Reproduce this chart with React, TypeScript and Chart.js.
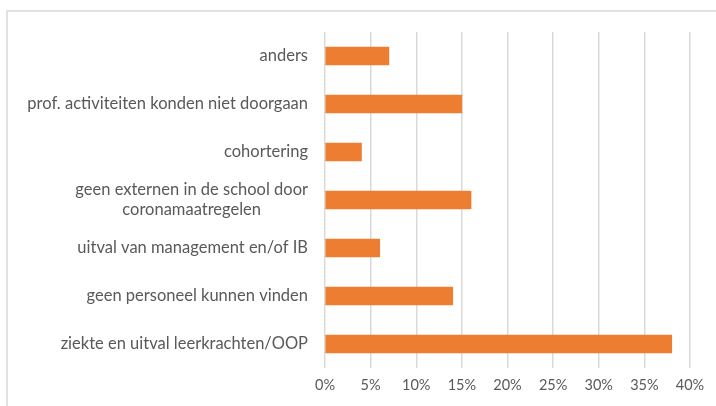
import React, { useEffect, useRef } from "react";
import { Chart, registerables } from "chart.js";

Chart.register(...registerables);

const categories: (string | string[])[] = [
  "anders",
  "prof. activiteiten konden niet doorgaan",
  "cohortering",
  ["geen externen in de school door", "coronamaatregelen"],
  "uitval van management en/of IB",
  "geen personeel kunnen vinden",
  "ziekte en uitval leerkrachten/OOP",
];
const values = [7, 15, 4, 16, 6, 14, 38];
const xMin = 0;
const xMax = 40;
const xStep = 5;

const FONT = "Lato";
const TEXT = "#595959";

const decorPlugin = {
  id: "decor",
  afterDraw(chart: any) {
    const ctx = chart.ctx as CanvasRenderingContext2D;
    const y = chart.scales.y;
    ctx.save();
    ctx.font = `16.5px ${FONT}`;
    ctx.fillStyle = TEXT;
    ctx.textAlign = "center";
    ctx.textBaseline = "middle";
    (chart.data.labels as (string | string[])[]).forEach((lab, i) => {
      const lines = Array.isArray(lab) ? lab : [lab];
      const w = Math.max(...lines.map((l) => ctx.measureText(l).width));
      const cx = chart.chartArea.left - 17 - w / 2;
      const cy = y.getPixelForValue(i);
      const lh = 20;
      lines.forEach((l, j) => {
        ctx.fillText(l, cx, cy + (j - (lines.length - 1) / 2) * lh);
      });
    });
    ctx.strokeStyle = "#d9d9d9";
    ctx.lineWidth = 1.5;
    ctx.strokeRect(7, 11, 1000, 1000);
    ctx.restore();
  },
};

export default function App() {
  const ref = useRef<HTMLCanvasElement | null>(null);
  useEffect(() => {
    document.body.style.margin = "0";
    const canvas = ref.current!;
    const chart = new Chart(canvas, {
      type: "bar",
      data: {
        labels: categories as any,
        datasets: [
          {
            data: values,
            backgroundColor: "#ED7D31",
            borderWidth: 0,
            barThickness: 18,
          },
        ],
      },
      options: {
        indexAxis: "y",
        responsive: false,
        animation: false,
        layout: { padding: { left: 0, right: 26, top: 32, bottom: 0 } },
        plugins: {
          legend: { display: false },
          tooltip: { enabled: false },
        },
        scales: {
          x: {
            min: xMin,
            max: xMax,
            grid: { color: "#d9d9d9", lineWidth: 1.5, drawTicks: false },
            border: { display: false },
            ticks: {
              stepSize: xStep,
              padding: 9,
              color: TEXT,
              font: { family: FONT, size: 14.5 },
              callback: (v: any) => `${v}%`,
            },
            afterFit: (s: any) => {
              s.height = 38;
            },
          },
          y: {
            grid: { display: false },
            border: { display: false },
            ticks: { display: false },
            afterFit: (s: any) => {
              s.width = 325;
            },
          },
        },
      },
      plugins: [decorPlugin],
    });
    return () => chart.destroy();
  }, []);
  return (
    <div style={{ width: 716, height: 406, background: "#fff" }}>
      <canvas ref={ref} width={716} height={406} style={{ display: "block" }} />
    </div>
  );
}
